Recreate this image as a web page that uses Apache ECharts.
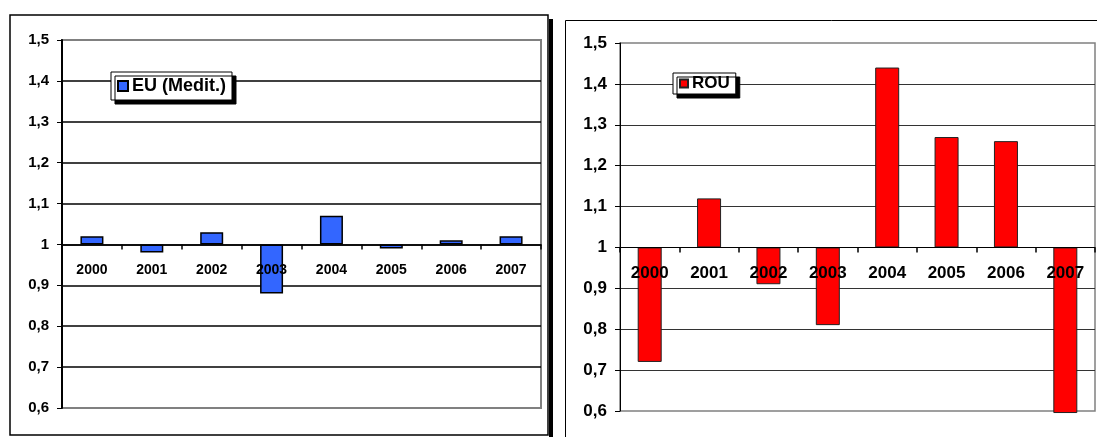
<!DOCTYPE html>
<html>
<head>
<meta charset="utf-8">
<script src="https://cdn.jsdelivr.net/npm/echarts@6/dist/echarts.min.js"></script>
<style>
  html, body { margin: 0; padding: 0; background: #fff; }
  #chart { width: 1097px; height: 437px; }
</style>
</head>
<body>
<div id="chart"></div>
<script>
  // data
  const years = ['2000', '2001', '2002', '2003', '2004', '2005', '2006', '2007'];
  const euMedit = [1.02, 0.98, 1.03, 0.88, 1.07, 0.99, 1.01, 1.02];
  const rou = [0.72, 1.12, 0.91, 0.81, 1.44, 1.27, 1.26, 0.595];
  const yTickValues = [0.6, 0.7, 0.8, 0.9, 1, 1.1, 1.2, 1.3, 1.4, 1.5];
  const yTickLabels = ['0,6', '0,7', '0,8', '0,9', '1', '1,1', '1,2', '1,3', '1,4', '1,5'];

  // bars start at 1, so the axis works in tenths around 1
  const base = 1;
  const toAxis = v => Math.round((v - base) * 1000) / 100;
  const yLabel = v => {
    const i = yTickValues.findIndex(t => Math.abs(toAxis(t) - v) < 1e-6);
    return i >= 0 ? yTickLabels[i] : '';
  };
  const FONT = "'Liberation Sans', Arial, sans-serif";
  const PLOT_H = 368;
  // where the value 1 sits, measured up from the bottom of the plot
  const baseOffset = -PLOT_H * (base - yTickValues[0]) / (yTickValues[yTickValues.length - 1] - yTickValues[0]);

  function yAxisOf(gridIndex, fontSize, gridColor, gridWidth, axisWidth){
    return {
      type: 'value',
      gridIndex: gridIndex,
      min: toAxis(yTickValues[0]),
      max: toAxis(yTickValues[yTickValues.length - 1]),
      interval: 1,
      axisLine: { show: true, lineStyle: { color: '#000', width: axisWidth } },
      axisTick: { show: true, length: 5, lineStyle: { color: '#000', width: 1 } },
      axisLabel: {
        formatter: yLabel, margin: 13,
        fontFamily: FONT, fontWeight: 'bold', fontSize: fontSize, color: '#000'
      },
      splitLine: {
        show: true, showMinLine: false, showMaxLine: false,
        lineStyle: { color: gridColor, width: gridWidth }
      }
    };
  }

  function xAxisOf(gridIndex, fontSize, axisWidth, margin){
    return {
      type: 'category',
      gridIndex: gridIndex,
      data: years,
      boundaryGap: true,
      position: 'bottom',
      offset: baseOffset,
      z: 5,
      axisLine: { show: true, onZero: false, lineStyle: { color: '#000', width: axisWidth } },
      axisTick: { show: true, inside: false, length: 5, alignWithLabel: false, lineStyle: { color: '#000', width: 1.5 } },
      axisLabel: {
        interval: 0, margin: margin,
        fontFamily: FONT, fontWeight: 'bold', fontSize: fontSize, color: '#000'
      }
    };
  }

  function legendOf(name, left, top, size, fontSize, padV){
    return {
      data: [name],
      left: left, top: top,
      orient: 'horizontal',
      icon: 'rect',
      itemWidth: size, itemHeight: size,
      itemGap: 4,
      padding: [padV, 6, padV, 6],
      backgroundColor: '#fff',
      borderColor: '#000',
      borderWidth: 1,
      shadowColor: '#000',
      shadowBlur: 0,
      shadowOffsetX: 4,
      shadowOffsetY: 4,
      selectedMode: false,
      textStyle: { fontFamily: FONT, fontWeight: 'bold', fontSize: fontSize, color: '#000', padding: [0, 0, 0, -1] }
    };
  }

  const chart = echarts.init(document.getElementById('chart'), null, { renderer: 'canvas' });
  chart.setOption({
    animation: false,
    backgroundColor: '#fff',
    graphic: [
      // left chart frame with its shadow
      { type: 'rect', z: -10, shape: { x: 549, y: 19, width: 4, height: 420 }, style: { fill: '#000' } },
      { type: 'rect', z: -9, shape: { x: 10, y: 15, width: 538, height: 420 }, style: { fill: '#fff', stroke: '#000', lineWidth: 1.5 } },
      // right chart frame
      { type: 'rect', z: -9, shape: { x: 565.5, y: 20.5, width: 560, height: 440 }, style: { fill: '#fff', stroke: '#000', lineWidth: 1 } }
    ],
    legend: [
      legendOf('EU (Medit.)', 111, 72, 10, 18, 5),
      legendOf('ROU', 673, 73, 8, 17, 2)
    ],
    grid: [
      { left: 62, top: 40, width: 479, height: PLOT_H, show: true, borderColor: '#808080', borderWidth: 2, backgroundColor: 'transparent' },
      { left: 620, top: 43, width: 475, height: PLOT_H, show: true, borderColor: '#808080', borderWidth: 1.5, backgroundColor: 'transparent' }
    ],
    xAxis: [
      xAxisOf(0, 14, 1.5, 19),
      xAxisOf(1, 17, 1, 17)
    ],
    yAxis: [
      yAxisOf(0, 15, '#000', 1.5, 2),
      yAxisOf(1, 17, '#333', 1.2, 1)
    ],
    series: [
      {
        name: 'EU (Medit.)', type: 'bar', xAxisIndex: 0, yAxisIndex: 0,
        data: euMedit.map(toAxis), barWidth: 23,
        itemStyle: { color: '#3366FF', borderColor: '#000', borderWidth: 1.5 }
      },
      {
        name: 'ROU', type: 'bar', xAxisIndex: 1, yAxisIndex: 1,
        data: rou.map(toAxis), barWidth: 24, clip: false,
        itemStyle: { color: '#FF0000', borderColor: '#222', borderWidth: 1 }
      }
    ]
  });
</script>
</body>
</html>
